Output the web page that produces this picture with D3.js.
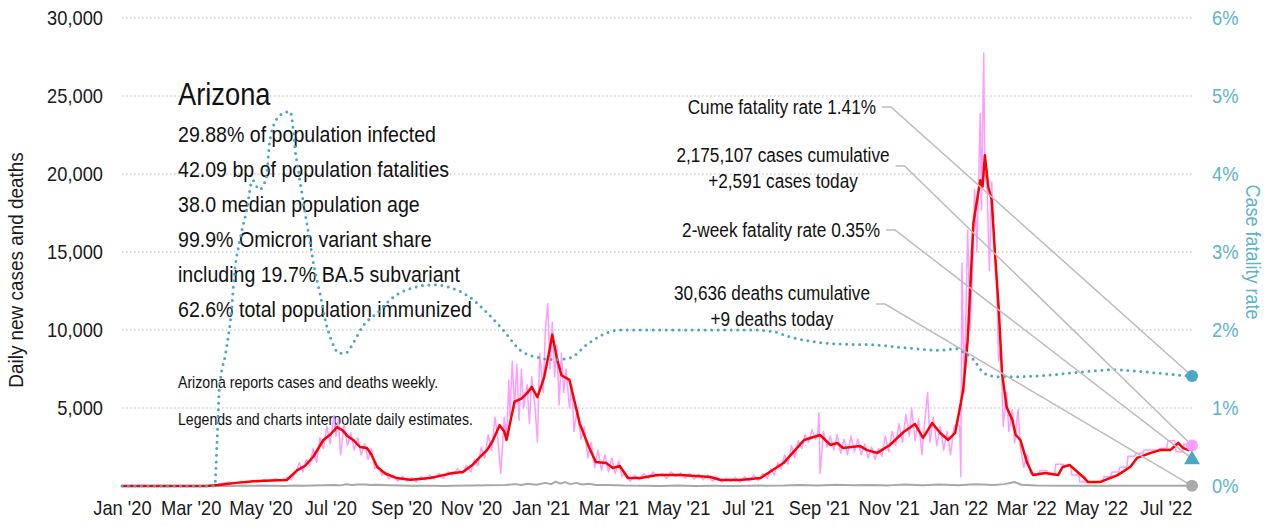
<!DOCTYPE html>
<html>
  <head>
    <script src="https://d3js.org/d3.v7.min.js"></script>
    <style>
      body { margin: 0; background: #fff; }
      svg text { font-family: 'Liberation Sans', Arial, sans-serif; }
    </style>
  </head>
  <body>
<script type="text/javascript">
var startDate = '2020-01-01';
var endDate = '2022-07-24';

var caseTicks = [5000, 10000, 15000, 20000, 25000, 30000];
var rateTicks = [0, 1, 2, 3, 4, 5, 6];
var monthTicks = ['2020-01-01', '2020-03-01', '2020-05-01', '2020-07-01', '2020-09-01', '2020-11-01',
  '2021-01-01', '2021-03-01', '2021-05-01', '2021-07-01', '2021-09-01', '2021-11-01',
  '2022-01-01', '2022-03-01', '2022-05-01', '2022-07-01'];

var stateName = 'Arizona';
var stateStats = ['29.88% of population infected', '42.09 bp of population fatalities',
  '38.0 median population age', '99.9% Omicron variant share',
  'including 19.7% BA.5 subvariant', '62.6% total population immunized'];
var stateNotes = ['Arizona reports cases and deaths weekly.', 'Legends and charts interpolate daily estimates.'];

// latest values (for the end markers)
var cumeRate = 1.41;
var twoWeekRate = 0.35;
var casesToday = 2591;
var deathsToday = 9;

// 7-day average of new cases (red)
var avgCases = [
  ['2020-01-01', 0], ['2020-03-15', 0], ['2020-03-25', 60], ['2020-04-10', 200], ['2020-04-25', 300],
  ['2020-05-10', 350], ['2020-05-24', 385], ['2020-06-02', 1000], ['2020-06-09', 1300], ['2020-06-16', 1860],
  ['2020-06-25', 2950], ['2020-07-01', 3300], ['2020-07-07', 3780], ['2020-07-12', 3550], ['2020-07-16', 3200],
  ['2020-07-21', 2950], ['2020-07-27', 2500], ['2020-08-02', 2440], ['2020-08-06', 2000], ['2020-08-11', 1220],
  ['2020-08-18', 800], ['2020-08-28', 510], ['2020-09-09', 400], ['2020-09-17', 450], ['2020-09-26', 510],
  ['2020-10-05', 650], ['2020-10-16', 830], ['2020-10-25', 900], ['2020-11-03', 1400], ['2020-11-08', 1800],
  ['2020-11-15', 2300], ['2020-11-20', 2900], ['2020-11-26', 3900], ['2020-11-30', 3500], ['2020-12-02', 2950],
  ['2020-12-09', 5400], ['2020-12-15', 5600], ['2020-12-20', 5950], ['2020-12-24', 6350], ['2020-12-29', 5700],
  ['2021-01-04', 7000], ['2021-01-08', 8500], ['2021-01-11', 9700], ['2021-01-15', 8200], ['2021-01-19', 7100],
  ['2021-01-26', 6800], ['2021-02-04', 4000], ['2021-02-12', 2500], ['2021-02-18', 1540], ['2021-02-27', 1470],
  ['2021-03-05', 1150], ['2021-03-11', 1280], ['2021-03-18', 510], ['2021-03-29', 510], ['2021-04-13', 700],
  ['2021-05-03', 700], ['2021-05-29', 580], ['2021-06-07', 385], ['2021-06-24', 385], ['2021-07-12', 510],
  ['2021-07-20', 900], ['2021-08-01', 1470], ['2021-08-10', 2200], ['2021-08-19', 2950], ['2021-09-02', 3270],
  ['2021-09-11', 2630], ['2021-09-17', 2760], ['2021-09-22', 2440], ['2021-10-07', 2560], ['2021-10-13', 2300],
  ['2021-10-22', 2120], ['2021-11-02', 2630], ['2021-11-14', 3460], ['2021-11-24', 3970], ['2021-12-01', 3080],
  ['2021-12-09', 4040], ['2021-12-16', 3400], ['2021-12-23', 2950], ['2021-12-29', 3400], ['2022-01-03', 5320],
  ['2022-01-05', 6150], ['2022-01-09', 9360], ['2022-01-14', 16860], ['2022-01-20', 19600], ['2022-01-22', 19200],
  ['2022-01-24', 21200], ['2022-01-27', 19170], ['2022-01-30', 18330], ['2022-02-02', 14700], ['2022-02-05', 11500],
  ['2022-02-08', 7250], ['2022-02-12', 5060], ['2022-02-17', 4230], ['2022-02-20', 3270], ['2022-02-24', 2950],
  ['2022-03-02', 1470], ['2022-03-07', 700], ['2022-03-18', 830], ['2022-03-29', 700], ['2022-04-02', 1220],
  ['2022-04-08', 1350], ['2022-04-20', 580], ['2022-04-24', 260], ['2022-05-05', 260], ['2022-05-20', 700],
  ['2022-05-31', 1220], ['2022-06-06', 1800], ['2022-06-18', 2120], ['2022-06-26', 2300], ['2022-07-05', 2300],
  ['2022-07-12', 2760], ['2022-07-16', 2440], ['2022-07-21', 2300], ['2022-07-24', 2500]
];

// daily new cases (pink)
var dailyCases = [
  ['2020-01-01', 0], ['2020-03-18', 0], ['2020-03-24', 100], ['2020-03-30', 180], ['2020-04-04', 250],
  ['2020-04-09', 150], ['2020-04-14', 300], ['2020-04-19', 200], ['2020-04-24', 350], ['2020-04-29', 250],
  ['2020-05-04', 400], ['2020-05-09', 300], ['2020-05-14', 450], ['2020-05-19', 350], ['2020-05-24', 550],
  ['2020-05-28', 400], ['2020-06-01', 900], ['2020-06-04', 1500], ['2020-06-07', 900], ['2020-06-10', 1700],
  ['2020-06-13', 1300], ['2020-06-16', 2400], ['2020-06-19', 1500], ['2020-06-22', 3100], ['2020-06-25', 2400],
  ['2020-06-28', 3800], ['2020-07-01', 2700], ['2020-07-04', 4500], ['2020-07-06', 3200], ['2020-07-08', 4300],
  ['2020-07-10', 2000], ['2020-07-13', 3900], ['2020-07-16', 2600], ['2020-07-19', 3400], ['2020-07-22', 2300],
  ['2020-07-25', 3100], ['2020-07-28', 2000], ['2020-07-31', 2700], ['2020-08-03', 1700], ['2020-08-06', 2400],
  ['2020-08-09', 1100], ['2020-08-12', 1300], ['2020-08-15', 700], ['2020-08-18', 900], ['2020-08-21', 450],
  ['2020-08-25', 700], ['2020-08-29', 300], ['2020-09-02', 600], ['2020-09-06', 300], ['2020-09-10', 550],
  ['2020-09-14', 250], ['2020-09-18', 600], ['2020-09-22', 400], ['2020-09-26', 700], ['2020-09-30', 450],
  ['2020-10-04', 800], ['2020-10-08', 500], ['2020-10-12', 900], ['2020-10-16', 700], ['2020-10-20', 1100],
  ['2020-10-24', 800], ['2020-10-28', 1300], ['2020-11-01', 900], ['2020-11-04', 1700], ['2020-11-07', 1300],
  ['2020-11-10', 2500], ['2020-11-13', 1800], ['2020-11-16', 3300], ['2020-11-19', 2300], ['2020-11-22', 4400],
  ['2020-11-24', 3300], ['2020-11-27', 800], ['2020-11-30', 4400], ['2020-12-02', 3000], ['2020-12-04', 6800],
  ['2020-12-05', 4500], ['2020-12-07', 8000], ['2020-12-09', 5000], ['2020-12-11', 7800], ['2020-12-13', 4200],
  ['2020-12-15', 7500], ['2020-12-17', 5000], ['2020-12-20', 6500], ['2020-12-22', 4000], ['2020-12-24', 7000],
  ['2020-12-27', 5000], ['2020-12-29', 2800], ['2020-12-31', 8500], ['2021-01-03', 6000], ['2021-01-05', 10000],
  ['2021-01-07', 11700], ['2021-01-09', 7500], ['2021-01-11', 10500], ['2021-01-13', 7000], ['2021-01-15', 9000],
  ['2021-01-17', 5200], ['2021-01-19', 8500], ['2021-01-21', 6000], ['2021-01-23', 7500], ['2021-01-26', 5000],
  ['2021-01-28', 6500], ['2021-01-30', 3500], ['2021-02-02', 5000], ['2021-02-05', 3000], ['2021-02-08', 3800],
  ['2021-02-11', 1800], ['2021-02-14', 2800], ['2021-02-17', 1200], ['2021-02-20', 2300], ['2021-02-23', 1000],
  ['2021-02-26', 2000], ['2021-03-01', 900], ['2021-03-04', 1800], ['2021-03-07', 800], ['2021-03-10', 1600],
  ['2021-03-13', 600], ['2021-03-16', 900], ['2021-03-20', 300], ['2021-03-24', 700], ['2021-03-28', 400],
  ['2021-04-01', 800], ['2021-04-05', 500], ['2021-04-09', 900], ['2021-04-13', 600], ['2021-04-17', 800],
  ['2021-04-21', 500], ['2021-04-25', 900], ['2021-04-29', 600], ['2021-05-03', 850], ['2021-05-07', 500],
  ['2021-05-11', 800], ['2021-05-15', 450], ['2021-05-19', 750], ['2021-05-23', 400], ['2021-05-27', 700],
  ['2021-05-31', 300], ['2021-06-04', 600], ['2021-06-08', 250], ['2021-06-12', 500], ['2021-06-16', 300],
  ['2021-06-20', 550], ['2021-06-24', 250], ['2021-06-28', 600], ['2021-07-02', 300], ['2021-07-06', 700],
  ['2021-07-10', 350], ['2021-07-14', 800], ['2021-07-18', 500], ['2021-07-21', 1100], ['2021-07-24', 700],
  ['2021-07-27', 1500], ['2021-07-30', 1100], ['2021-08-02', 2000], ['2021-08-05', 1400], ['2021-08-08', 2600],
  ['2021-08-11', 1800], ['2021-08-14', 2900], ['2021-08-17', 2400], ['2021-08-20', 3300], ['2021-08-23', 2800],
  ['2021-08-26', 3600], ['2021-08-29', 3000], ['2021-08-31', 3300], ['2021-09-01', 4700], ['2021-09-02', 800],
  ['2021-09-05', 3500], ['2021-09-08', 2500], ['2021-09-11', 3200], ['2021-09-14', 2300], ['2021-09-17', 3300],
  ['2021-09-20', 2100], ['2021-09-23', 3000], ['2021-09-26', 2000], ['2021-09-29', 3200], ['2021-10-02', 2200],
  ['2021-10-05', 3000], ['2021-10-08', 2000], ['2021-10-11', 2700], ['2021-10-14', 1800], ['2021-10-17', 2500],
  ['2021-10-20', 1700], ['2021-10-23', 2400], ['2021-10-26', 1900], ['2021-10-29', 3200], ['2021-11-01', 2200],
  ['2021-11-04', 3500], ['2021-11-07', 2600], ['2021-11-10', 4000], ['2021-11-13', 2800], ['2021-11-16', 4600],
  ['2021-11-19', 3200], ['2021-11-21', 5000], ['2021-11-24', 2900], ['2021-11-27', 4300], ['2021-11-30', 2000],
  ['2021-12-02', 3800], ['2021-12-05', 6000], ['2021-12-07', 2800], ['2021-12-10', 4400], ['2021-12-13', 2600],
  ['2021-12-16', 3800], ['2021-12-19', 2300], ['2021-12-22', 3500], ['2021-12-25', 2000], ['2021-12-28', 3800],
  ['2021-12-31', 4000], ['2022-01-02', 3800], ['2022-01-03', 600], ['2022-01-04', 14300], ['2022-01-06', 6000],
  ['2022-01-09', 16400], ['2022-01-11', 10000], ['2022-01-13', 13400], ['2022-01-15', 19000], ['2022-01-17', 15000],
  ['2022-01-20', 23900], ['2022-01-21', 17700], ['2022-01-23', 27750], ['2022-01-24', 20000], ['2022-01-26', 19000],
  ['2022-01-28', 13800], ['2022-01-30', 19500], ['2022-02-01', 15800], ['2022-02-03', 14000], ['2022-02-05', 8000],
  ['2022-02-07', 9000], ['2022-02-09', 3800], ['2022-02-12', 6000], ['2022-02-14', 3500], ['2022-02-17', 4900],
  ['2022-02-19', 2750], ['2022-02-22', 4900], ['2022-02-24', 2500], ['2022-02-27', 1200], ['2022-03-02', 2000],
  ['2022-03-05', 800], ['2022-03-12', 700], ['2022-03-13', 1000], ['2022-03-19', 1000], ['2022-03-20', 700],
  ['2022-03-26', 700], ['2022-03-27', 1400], ['2022-04-02', 1400], ['2022-04-03', 1300], ['2022-04-09', 1300],
  ['2022-04-10', 700], ['2022-04-16', 700], ['2022-04-17', 250], ['2022-05-07', 250], ['2022-05-08', 600],
  ['2022-05-14', 600], ['2022-05-15', 900], ['2022-05-21', 900], ['2022-05-22', 1200], ['2022-05-28', 1200],
  ['2022-05-29', 1900], ['2022-06-04', 1900], ['2022-06-05', 2100], ['2022-06-11', 2100], ['2022-06-12', 2300],
  ['2022-06-25', 2300], ['2022-06-26', 2400], ['2022-07-02', 2400], ['2022-07-03', 2900], ['2022-07-09', 2900],
  ['2022-07-10', 2200], ['2022-07-16', 2200], ['2022-07-17', 2700], ['2022-07-24', 2591]
];

// daily new deaths (gray)
var dailyDeaths = [
  ['2020-01-01', 0], ['2020-03-20', 0], ['2020-04-01', 15], ['2020-04-08', 5], ['2020-04-15', 25],
  ['2020-04-22', 10], ['2020-05-01', 30], ['2020-05-08', 10], ['2020-05-15', 20], ['2020-05-22', 5],
  ['2020-06-01', 35], ['2020-06-08', 15], ['2020-06-15', 30], ['2020-06-25', 50], ['2020-07-05', 70],
  ['2020-07-10', 40], ['2020-07-15', 110], ['2020-07-20', 60], ['2020-07-25', 90], ['2020-08-01', 100],
  ['2020-08-05', 60], ['2020-08-10', 80], ['2020-08-20', 50], ['2020-09-01', 30], ['2020-09-08', 10],
  ['2020-09-15', 20], ['2020-10-01', 15], ['2020-10-08', 5], ['2020-10-15', 20], ['2020-11-01', 30],
  ['2020-11-15', 50], ['2020-12-01', 60], ['2020-12-10', 120], ['2020-12-15', 60], ['2020-12-20', 150],
  ['2020-12-28', 80], ['2021-01-05', 200], ['2021-01-10', 120], ['2021-01-14', 280], ['2021-01-18', 150],
  ['2021-01-22', 250], ['2021-01-27', 120], ['2021-02-01', 200], ['2021-02-06', 100], ['2021-02-12', 150],
  ['2021-02-18', 60], ['2021-03-01', 70], ['2021-03-15', 30], ['2021-04-01', 20], ['2021-04-15', 5],
  ['2021-05-01', 25], ['2021-05-15', 5], ['2021-06-01', 15], ['2021-06-15', 5], ['2021-07-01', 20],
  ['2021-08-01', 30], ['2021-08-15', 60], ['2021-09-01', 40], ['2021-09-15', 80], ['2021-10-01', 45],
  ['2021-10-15', 70], ['2021-11-01', 40], ['2021-11-15', 90], ['2021-12-01', 50], ['2021-12-15', 100],
  ['2022-01-01', 50], ['2022-01-15', 110], ['2022-02-01', 60], ['2022-02-10', 120], ['2022-02-19', 250],
  ['2022-02-25', 80], ['2022-03-10', 40], ['2022-04-01', 20], ['2022-05-01', 10], ['2022-06-01', 10],
  ['2022-07-01', 15], ['2022-07-24', 9]
];

// cumulative case fatality rate, % (teal dots)
var fatalityRate = [
  ['2020-01-01', 0], ['2020-03-22', 0], ['2020-03-24', 0.55], ['2020-03-26', 1.23], ['2020-04-01', 1.74],
  ['2020-04-06', 2.3], ['2020-04-08', 2.68], ['2020-04-13', 3.15], ['2020-04-19', 3.54], ['2020-04-24', 3.92],
  ['2020-04-30', 3.8], ['2020-05-06', 3.95], ['2020-05-09', 4.4], ['2020-05-15', 4.7], ['2020-05-21', 4.78],
  ['2020-05-27', 4.8], ['2020-05-29', 4.65], ['2020-05-31', 4.35], ['2020-06-04', 3.96], ['2020-06-09', 3.5],
  ['2020-06-13', 3.15], ['2020-06-17', 2.8], ['2020-06-22', 2.47], ['2020-06-26', 2.17], ['2020-07-03', 1.83],
  ['2020-07-09', 1.7], ['2020-07-15', 1.71], ['2020-07-21', 1.83], ['2020-07-29', 2.04], ['2020-08-11', 2.22],
  ['2020-08-25', 2.42], ['2020-09-11', 2.54], ['2020-09-29', 2.58], ['2020-10-20', 2.51], ['2020-10-31', 2.42],
  ['2020-11-15', 2.22], ['2020-11-29', 2.0], ['2020-12-14', 1.74], ['2020-12-29', 1.65], ['2021-01-12', 1.62],
  ['2021-01-26', 1.64], ['2021-02-10', 1.81], ['2021-02-24', 1.94], ['2021-03-11', 2.0], ['2021-07-05', 2.0],
  ['2021-07-23', 1.98], ['2021-08-07', 1.91], ['2021-08-27', 1.85], ['2021-09-20', 1.82], ['2021-10-18', 1.81],
  ['2021-11-17', 1.77], ['2021-12-16', 1.74], ['2021-12-31', 1.76], ['2022-01-05', 1.72], ['2022-01-14', 1.62],
  ['2022-01-23', 1.45], ['2022-02-04', 1.4], ['2022-02-18', 1.4], ['2022-03-20', 1.42], ['2022-04-17', 1.46],
  ['2022-05-16', 1.49], ['2022-06-15', 1.46], ['2022-07-14', 1.42], ['2022-07-24', 1.41]
];

var teal = '#4aa8c4';
var tealText = '#5bb3cc';
var pink = '#ff9cff';

var parseDate = d3.timeParse('%Y-%m-%d');
function rows(list) {
  return list.map(function(d) { return {date: parseDate(d[0]), value: d[1]}; });
}

// squeeze text horizontally, there is no condensed face installed
function narrow(sel, k) {
  sel.each(function() {
    var len = this.getComputedTextLength();
    d3.select(this)
        .attr('textLength', len * k)
        .attr('lengthAdjust', 'spacingAndGlyphs');
  });
}

var svg = d3.select('body').append('svg')
      .attr('width', 1270)
      .attr('height', 526);

var x = d3.scaleTime().domain([parseDate(startDate), parseDate(endDate)]).range([122, 1192]);
var y = d3.scaleLinear().domain([0, 30000]).range([486, 18]);
var yRate = d3.scaleLinear().domain([0, 6]).range([486, 18]);
var lastDate = parseDate(endDate);

// dotted grid
svg.append('g')
    .selectAll('line')
    .data(caseTicks)
    .enter()
    .append('line')
    .attr('x1', 122)
    .attr('x2', 1192)
    .attr('y1', function(d) { return y(d); })
    .attr('y2', function(d) { return y(d); })
    .attr('stroke', '#b8b8b8')
    .attr('stroke-dasharray', '1.5,2.5');

// axes
var leftAxis = svg.append('g')
    .attr('transform', 'translate(122,0)')
    .call(d3.axisLeft(y).tickValues(caseTicks).tickFormat(d3.format(',')).tickSize(0).tickPadding(19));
var rightAxis = svg.append('g')
    .attr('transform', 'translate(1192,0)')
    .call(d3.axisRight(yRate).tickValues(rateTicks).tickFormat(function(d) { return d + '%'; }).tickSize(0).tickPadding(20));
var bottomAxis = svg.append('g')
    .attr('transform', 'translate(0,486)')
    .call(d3.axisBottom(x).tickValues(monthTicks.map(parseDate)).tickFormat(d3.timeFormat("%b '%y")).tickSize(0).tickPadding(14));

[leftAxis, rightAxis, bottomAxis].forEach(function(g) {
  g.select('.domain').remove();
  g.attr('font-family', null).attr('font-size', null);
  g.selectAll('text').attr('font-size', 21).attr('fill', '#1a1a1a');
  narrow(g.selectAll('text'), 0.87);
});
rightAxis.selectAll('text').attr('fill', tealText);

var leftTitle = svg.append('text')
    .attr('transform', 'translate(23,270) rotate(-90)')
    .attr('text-anchor', 'middle')
    .attr('font-size', 21)
    .attr('fill', '#1a1a1a')
    .text('Daily new cases and deaths');
narrow(leftTitle, 0.9);

var rightTitle = svg.append('text')
    .attr('transform', 'translate(1246,252) rotate(90)')
    .attr('text-anchor', 'middle')
    .attr('font-size', 20)
    .attr('fill', tealText)
    .text('Case fatality rate');
narrow(rightTitle, 0.9);

// state block
var title = svg.append('text')
    .attr('x', 178)
    .attr('y', 105)
    .attr('font-size', 31)
    .attr('fill', '#111')
    .text(stateName);
narrow(title, 0.88);

var statText = svg.append('g')
    .selectAll('text')
    .data(stateStats)
    .enter()
    .append('text')
    .attr('x', 178)
    .attr('y', function(d, i) { return 142 + i * 35; })
    .attr('font-size', 22)
    .attr('fill', '#111')
    .text(function(d) { return d; });
narrow(statText, 0.89);

var noteText = svg.append('g')
    .selectAll('text')
    .data(stateNotes)
    .enter()
    .append('text')
    .attr('x', 178)
    .attr('y', function(d, i) { return 388 + i * 37; })
    .attr('font-size', 17)
    .attr('fill', '#111')
    .text(function(d) { return d; });
narrow(noteText, 0.83);

// series
function drawLine(data, scale, color, w, curve) {
  var line = d3.line()
      .x(function(d) { return x(d.date); })
      .y(function(d) { return scale(d.value); })
      .curve(curve || d3.curveLinear);
  return svg.append('path')
      .datum(rows(data))
      .attr('d', line)
      .attr('fill', 'none')
      .attr('stroke', color)
      .attr('stroke-width', w)
      .attr('stroke-linejoin', 'round');
}

drawLine(dailyCases, y, pink, 1.5);
drawLine(dailyDeaths, y, '#a8a8a8', 2);
drawLine(avgCases, y, '#ff0000', 2.5);
drawLine(fatalityRate, yRate, teal, 3, d3.curveMonotoneX)
    .attr('stroke-dasharray', '0,6.5')
    .attr('stroke-linecap', 'round');

// annotations with leader lines
var notes = [
  {lines: ['Cume fatality rate 1.41%'], x: 876, y: 114, anchor: 'end', leadY: 107, target: yRate(cumeRate)},
  {lines: ['2,175,107 cases cumulative', '+2,591 cases today'], x: 783, y: 162, anchor: 'middle', leadY: 166, target: y(casesToday)},
  {lines: ['2-week fatality rate 0.35%'], x: 880, y: 237, anchor: 'end', leadY: 230, target: yRate(twoWeekRate)},
  {lines: ['30,636 deaths cumulative', '+9 deaths today'], x: 772, y: 300, anchor: 'middle', leadY: 304, target: y(deathsToday)}
];

var k = 0.86;
notes.forEach(function(n) {
  var right = 0;
  n.lines.forEach(function(t, i) {
    var el = svg.append('text')
        .attr('x', n.x)
        .attr('y', n.y + i * 26)
        .attr('text-anchor', n.anchor)
        .attr('font-size', 20)
        .attr('fill', '#111')
        .text(t);
    var len = el.node().getComputedTextLength() * k;
    narrow(el, k);
    if (i === 0) {
      right = n.anchor === 'end' ? n.x : n.x + len / 2;
    }
  });
  svg.append('polyline')
      .attr('points', [[right + 6, n.leadY], [right + 15, n.leadY], [x(lastDate), n.target]].join(' '))
      .attr('fill', 'none')
      .attr('stroke', '#bcbcbc')
      .attr('stroke-width', 1.5);
});

// end markers
svg.append('circle')
    .attr('cx', x(lastDate)).attr('cy', yRate(cumeRate)).attr('r', 6)
    .attr('fill', teal);
svg.append('circle')
    .attr('cx', x(lastDate)).attr('cy', y(casesToday)).attr('r', 6)
    .attr('fill', pink);
svg.append('path')
    .attr('d', d3.symbol().type(d3.symbolTriangle).size(110))
    .attr('transform', 'translate(' + x(lastDate) + ',' + (yRate(twoWeekRate) + 1) + ')')
    .attr('fill', teal);
svg.append('circle')
    .attr('cx', x(lastDate)).attr('cy', y(deathsToday)).attr('r', 6)
    .attr('fill', '#aaaaaa');
</script>
